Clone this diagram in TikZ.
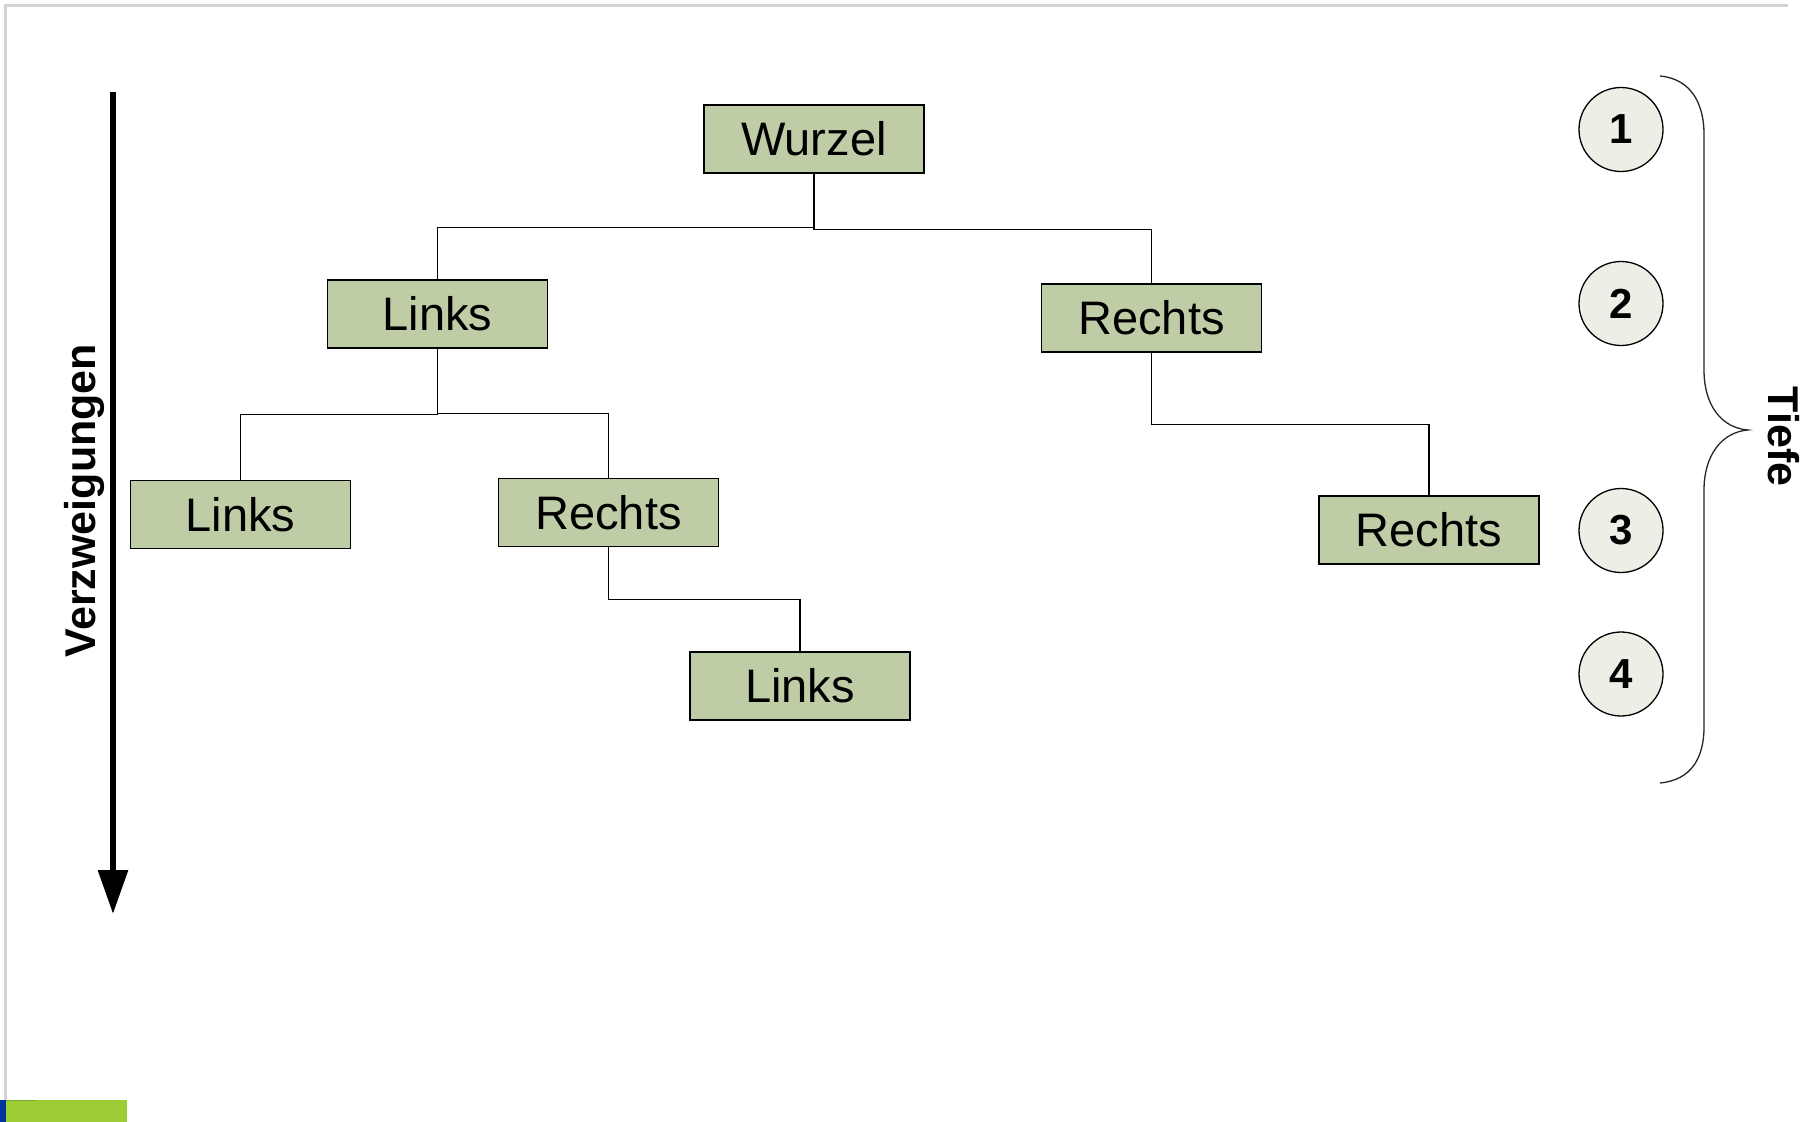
\documentclass[tikz,border=0pt]{standalone}
\usepackage{fontspec}
\setmainfont{Liberation Sans}
\usetikzlibrary{arrows.meta}
\definecolor{boxgreen}{RGB}{191,205,166}
\definecolor{circfill}{RGB}{238,238,230}
\definecolor{framegray}{RGB}{210,210,210}
\definecolor{barblue}{RGB}{0,51,153}
\definecolor{bargreen}{RGB}{155,204,52}
\definecolor{bardark}{RGB}{120,170,60}
\tikzset{
  treebox/.style={draw=black, line width=1.4pt, fill=boxgreen, minimum width=220pt,
    minimum height=68pt, inner sep=0pt, font=\fontsize{47}{56}\selectfont},
  levelmark/.style={circle, draw=black, line width=1.3pt, fill=circfill, minimum size=84pt,
    inner sep=0pt, font=\fontsize{42}{50}\selectfont\bfseries},
  branch/.style={draw=black, line width=1.3pt},
  sidelabel/.style={inner sep=0pt, font=\fontsize{43}{52}\selectfont\bfseries}
}
\begin{document}
\begin{tikzpicture}[x=1pt,y=-1pt]
\useasboundingbox (0,0) rectangle (1816,1122);

% page frame and footer bar
\draw[framegray, line width=3pt] (5.5,1100) -- (5.5,5.5) -- (1788,5.5);
\fill[barblue] (0,1100) rectangle (6,1122);
\fill[bargreen] (6,1100) rectangle (127,1122);
\draw[bardark, line width=1pt] (6,1100.5) -- (36,1100.5);

% tree nodes
\node[treebox] (root) at (814,139) {Wurzel};
\node[treebox] (l1) at (437.5,314) {Links};
\node[treebox] (r1) at (1151.5,318) {Rechts};
\node[treebox] (l1l) at (240.5,514.5) {Links};
\node[treebox] (l1r) at (608.5,512.5) {Rechts};
\node[treebox] (r1r) at (1429,530) {Rechts};
\node[treebox] (l1rl) at (800,686) {Links};

% branches
\draw[branch] (root.south) -- ++(0,54) -| (l1.north);
\draw[branch] (root.south) -- ++(0,56) -| (r1.north);
\draw[branch] (l1.south) -- ++(0,66) -| (l1l.north);
\draw[branch] (l1.south) -- ++(0,65) -| (l1r.north);
\draw[branch] (r1.south) -- ++(0,72) -| (r1r.north);
\draw[branch] (l1r.south) -- ++(0,52) -| (l1rl.north);

% depth markers
\node[levelmark] (d1) at (1621,129.5) {1};
\node[levelmark] (d2) at (1621,303.5) {2};
\node[levelmark] (d3) at (1621,530.5) {3};
\node[levelmark] (d4) at (1621,674) {4};

% brace grouping the depth levels
\draw[black!85, line width=1.3pt]
  (1660,76) .. controls (1692,79) and (1704,105) .. (1704,134)
  -- (1704,370) .. controls (1704,406) and (1722,428) .. (1748,430)
  .. controls (1722,432) and (1704,455) .. (1704,490)
  -- (1704,727) .. controls (1704,757) and (1692,780) .. (1660,783);
\node[sidelabel, rotate=-90] (depth) at (1784,436.5) {Tiefe};

% branching direction
\coordinate (arrtop) at (113,92);
\coordinate (arrtip) at (113,914);
\draw[line width=6pt, -{Triangle[width=29pt,length=44pt]}] (arrtop) -- (arrtip);
\node[sidelabel, rotate=90] (branching) at (84,500.5) {Verzweigungen};
\end{tikzpicture}
\end{document}
